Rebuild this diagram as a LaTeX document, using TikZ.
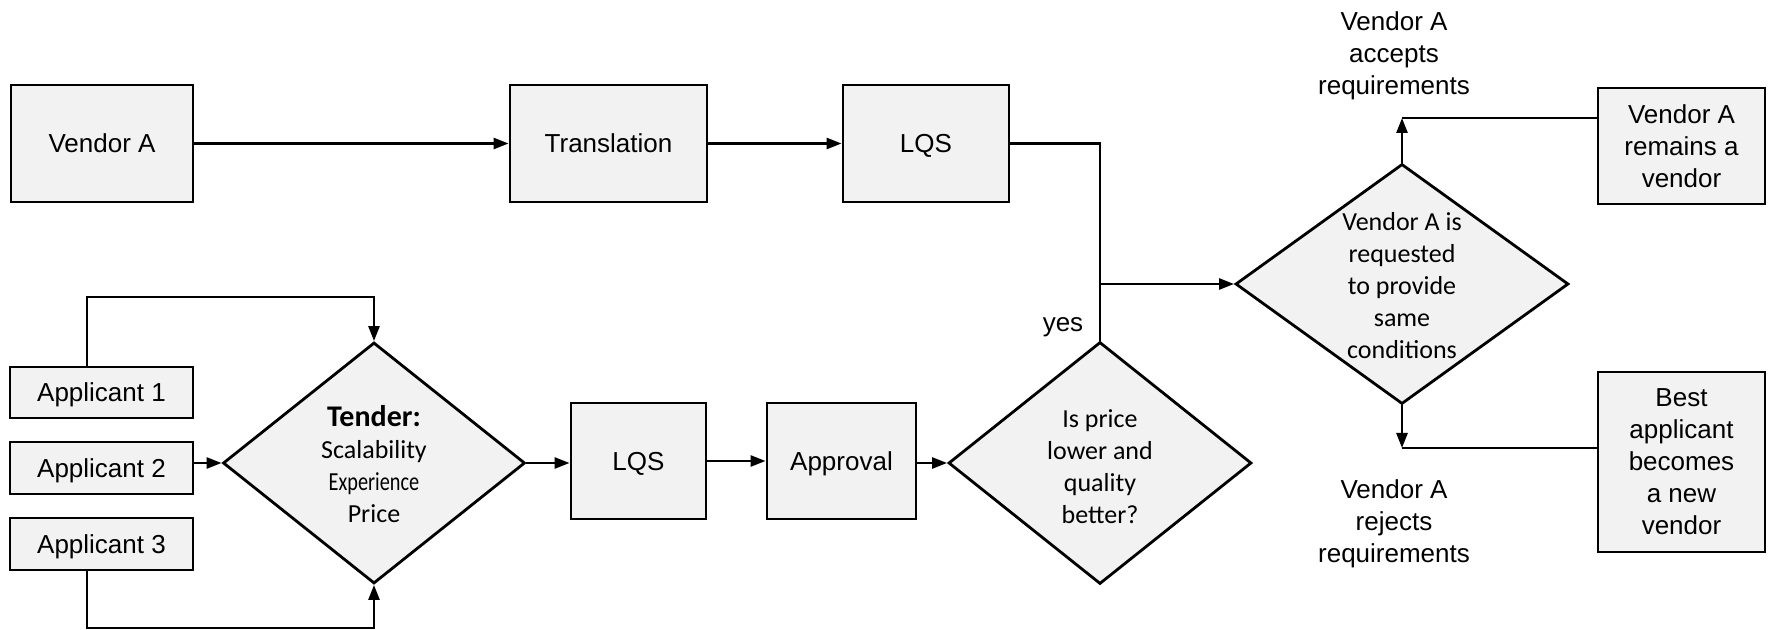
\documentclass[tikz,border=0pt]{standalone}
\usepackage{fontspec}
\setmainfont{Liberation Sans}
\newfontfamily\calfont{Carlito}
\usepackage{graphicx}
\usetikzlibrary{shapes.geometric,arrows.meta}
\definecolor{boxfill}{RGB}{242,242,242}
\begin{document}
\begin{tikzpicture}[x=0.5pt,y=-0.5pt,
  every node/.style={font=\fontsize{13}{16}\selectfont},
  box/.style={draw, line width=1.4pt, fill=boxfill, inner sep=0pt, align=center},
  sbox/.style={box, text height=12.3pt, text depth=3pt},
  dia/.style={draw, line width=1.4pt, fill=boxfill, diamond, inner sep=0pt},
  ln/.style={line width=1.3pt},
  arr/.style={line width=1.3pt, -{Triangle[length=7.5pt,width=5.5pt]}},
  cal/.style={font=\calfont\fontsize{13}{16}\selectfont, align=center},
  lbl/.style={align=center}]
\useasboundingbox (0,0) rectangle (1769,630);

% top row
\node[sbox, minimum width=91pt, minimum height=58.5pt] (vA) at (102,143.5) {Vendor A};
\node[sbox, minimum width=98.5pt, minimum height=58.5pt] (trans) at (608.5,143.5) {Translation};
\node[sbox, minimum width=83pt, minimum height=58.5pt] (lqsA) at (926,143.5) {LQS};

% applicants
\node[sbox, minimum width=91.5pt, minimum height=25.5pt] (app1) at (101.5,392.5) {Applicant 1};
\node[sbox, minimum width=91.5pt, minimum height=26pt] (app2) at (101.5,468) {Applicant 2};
\node[sbox, minimum width=91.5pt, minimum height=26pt] (app3) at (101.5,544) {Applicant 3};

% diamonds
\node[dia, minimum width=151pt, minimum height=120.5pt] (tender) at (374,463) {};
\node[cal] (tendertxt) at (374,464) {{\bfseries\fontsize{15}{16}\selectfont Tender:}\\Scalability\\\scalebox{0.78}[1]{Experience}\\Price};

\node[sbox, minimum width=67.5pt, minimum height=58pt] (lqsB) at (638.5,461) {LQS};
\node[sbox, minimum width=74.5pt, minimum height=58pt] (appr) at (841.5,461) {Approval};

\node[dia, minimum width=151.5pt, minimum height=121pt] (price) at (1100,463) {};
\node[cal] (pricetxt) at (1100,467) {Is price\\lower and\\quality\\better?};

\node[dia, minimum width=166.5pt, minimum height=120pt] (d2) at (1402,284) {};
\node[cal] (d2txt) at (1402,286) {Vendor A is\\requested\\to provide\\same\\conditions};

% right boxes
\node[box, minimum width=83.5pt, minimum height=58pt] (remain) at (1681.5,146) {Vendor A\\remains a\\vendor};
\node[box, minimum width=83.5pt, minimum height=90pt] (best) at (1681.5,462) {Best\\applicant\\becomes\\a new\\vendor};

% labels
\node[lbl] (accept) at (1394,56) {Vendor A\\accepts\\requirements};
\node[lbl] (reject) at (1394,524) {Vendor A\\rejects\\requirements};
\node (yes) at (1063,327) {yes};

% connectors
\draw[arr] (vA) -- (trans);
\draw[arr] (trans) -- (lqsA);
\draw[ln] (lqsA.east) -| (price.north);
\coordinate (j) at (price.north |- d2.west);
\draw[arr] (j) -- (d2.west);

\coordinate (up1) at (87,297);
\coordinate (dn3) at (87,628);
\draw[arr] (app1.north -| up1) -- (up1) -| (tender.north);
\draw[arr] (app3.south -| dn3) -- (dn3) -| (tender.south);
\draw[arr] (app2.east |- tender.west) -- (tender.west);
\draw[arr] (tender.east) -- (tender.east -| lqsB.west);
\draw[arr] (lqsB) -- (appr);
\draw[arr] (appr.east |- price.west) -- (price.west);

\coordinate (ca) at (1402,118);
\coordinate (cr) at (1402,448);
\draw[arr] (d2.north) -- (ca);
\draw[ln] (ca) -- (ca -| remain.west);
\draw[arr] (d2.south) -- (cr);
\draw[ln] (cr) -- (cr -| best.west);
\end{tikzpicture}
\end{document}
